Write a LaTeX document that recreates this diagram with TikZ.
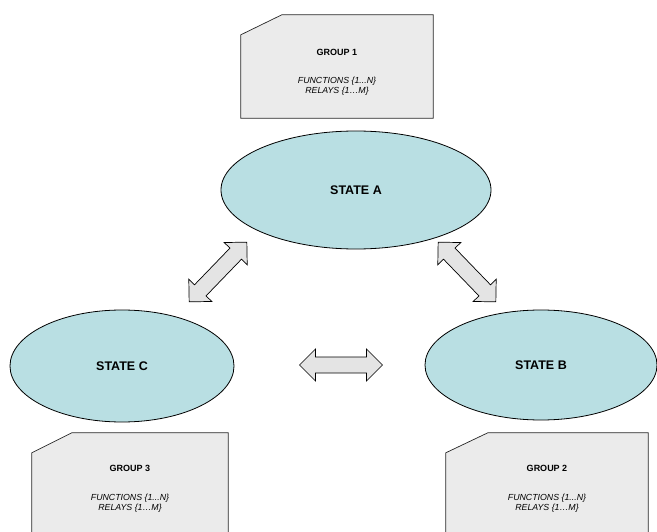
\documentclass[tikz,border=0pt]{standalone}
\usepackage{fontspec}
\setmainfont{Liberation Sans}
\usetikzlibrary{shapes.geometric}
\definecolor{statefill}{HTML}{B9DFE3}
\definecolor{groupfill}{HTML}{EBEBEB}
\definecolor{arrowfill}{HTML}{E4E4E4}
\begin{document}
\begin{tikzpicture}[x=1pt,y=-1pt,
  statenode/.style={ellipse,draw=black,line width=0.8pt,fill=statefill,
    inner sep=0pt,font=\fontsize{12.5}{14}\selectfont\bfseries},
  grpbox/.style={rectangle,draw=none,inner sep=0pt},
  grpshape/.style={draw=black!85,line width=0.7pt,fill=groupfill},
  grptitle/.style={font=\fontsize{9}{11}\selectfont\bfseries},
  grpbody/.style={align=center,font=\fontsize{8.8}{10.5}\selectfont\itshape},
  blockarrow/.style={draw=black,line width=0.7pt,fill=arrowfill,line join=miter}]
\useasboundingbox (0,0) rectangle (657,532);

% group boxes with a cut top-left corner
\node[grpbox,minimum width=192pt,minimum height=103pt] (g1) at (337,66.5) {};
\path[grpshape] ([xshift=41pt]g1.north west) -- (g1.north east) -- (g1.south east)
  -- (g1.south west) -- ([yshift=-20pt]g1.north west) -- cycle;
\node[grptitle] (g1t) at (337,52) {GROUP 1};
\node[grpbody] (g1b) at (337,86) {FUNCTIONS \{1...N\}\\RELAYS \{1…M\}};

\node[grpbox,minimum width=196pt,minimum height=112pt] (g3) at (130,489) {};
\path[grpshape] ([xshift=40pt]g3.north west) -- (g3.north east) -- (g3.south east)
  -- (g3.south west) -- ([yshift=-20pt]g3.north west) -- cycle;
\node[grptitle] (g3t) at (130,468) {GROUP 3};
\node[grpbody] (g3b) at (130,503) {FUNCTIONS \{1...N\}\\RELAYS \{1…M\}};

\node[grpbox,minimum width=202pt,minimum height=112pt] (g2) at (547,489) {};
\path[grpshape] ([xshift=42pt]g2.north west) -- (g2.north east) -- (g2.south east)
  -- (g2.south west) -- ([yshift=-20pt]g2.north west) -- cycle;
\node[grptitle] (g2t) at (547,468) {GROUP 2};
\node[grpbody] (g2b) at (547,503) {FUNCTIONS \{1...N\}\\RELAYS \{1…M\}};

% states
\node[statenode,minimum width=270pt,minimum height=118pt] (sa) at (356,190) {STATE A};
\node[statenode,minimum width=224pt,minimum height=112pt] (sc) at (122,366) {STATE C};
\node[statenode,minimum width=232pt,minimum height=110pt] (sb) at (541,365) {STATE B};

% two-headed block arrows between the states
\newcommand\twohead[3]{%
  \begin{scope}[shift={(#1,#2)},rotate=#3]
    \path[blockarrow] (-41.5,0) -- (-25.5,16) -- (-25.5,8) -- (25.5,8) -- (25.5,16)
      -- (41.5,0) -- (25.5,-16) -- (25.5,-8) -- (-25.5,-8) -- (-25.5,-16) -- cycle;
  \end{scope}}
\twohead{218}{272}{46}
\twohead{467}{272}{-46}
\twohead{341}{365}{0}
\end{tikzpicture}
\end{document}
